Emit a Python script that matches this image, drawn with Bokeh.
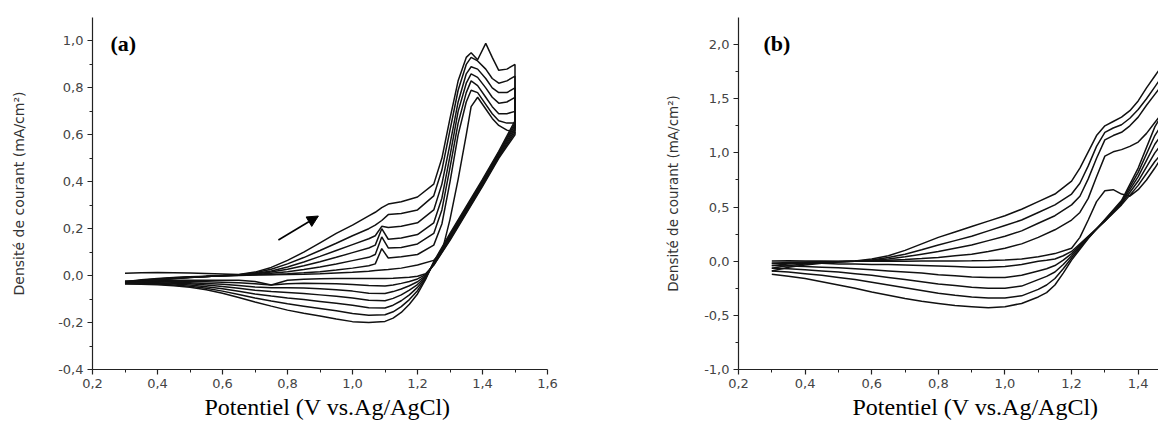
from bokeh.plotting import figure
from bokeh.layouts import row
from bokeh.models import FixedTicker, Label, Arrow, NormalHead, Range1d, Title
from bokeh.embed import file_html
from bokeh.resources import INLINE

# ---------------- Panel (a) data ----------------
A_FWD_X = [0.30, 0.35, 0.40, 0.45, 0.50, 0.55, 0.60, 0.65, 0.70, 0.75, 0.80, 0.85, 0.90, 0.95, 1.00, 1.05,
           1.07, 1.09, 1.11, 1.15, 1.20, 1.25, 1.275, 1.30, 1.325, 1.35, 1.365, 1.385, 1.41, 1.43, 1.45, 1.475, 1.50]
a_fwd_1 = [0.010, 0.012, 0.013, 0.012, 0.011, 0.009, 0.007, 0.005, 0.004, 0.004, 0.005, 0.006, 0.008, 0.011, 0.014, 0.019,
           0.022, 0.024, 0.026, 0.032, 0.045, 0.065, 0.10, 0.24, 0.41, 0.60, 0.72, 0.76, 0.71, 0.67, 0.64, 0.62, 0.61]
a_fwd_2 = [-0.026, -0.018, -0.012, -0.008, -0.005, -0.003, -0.001, 0.001, 0.003, 0.005, 0.008, 0.012, 0.017, 0.024, 0.032, 0.042,
           0.05, 0.115, 0.075, 0.08, 0.09, 0.13, 0.22, 0.40, 0.60, 0.74, 0.79, 0.78, 0.73, 0.69, 0.66, 0.65, 0.65]
a_fwd_3 = [-0.028, -0.020, -0.014, -0.009, -0.006, -0.004, -0.001, 0.002, 0.005, 0.010, 0.017, 0.026, 0.037, 0.050, 0.064, 0.078,
           0.09, 0.165, 0.118, 0.12, 0.135, 0.18, 0.28, 0.46, 0.65, 0.78, 0.83, 0.81, 0.76, 0.72, 0.69, 0.69, 0.70]
a_fwd_4 = [-0.030, -0.022, -0.016, -0.010, -0.007, -0.004, -0.001, 0.002, 0.007, 0.015, 0.027, 0.042, 0.059, 0.078, 0.098, 0.118,
           0.13, 0.20, 0.155, 0.16, 0.175, 0.225, 0.33, 0.51, 0.70, 0.82, 0.86, 0.845, 0.80, 0.76, 0.735, 0.74, 0.76]
a_fwd_5 = [-0.032, -0.024, -0.017, -0.011, -0.007, -0.004, 0.000, 0.003, 0.009, 0.020, 0.037, 0.058, 0.082, 0.107, 0.132, 0.157,
           0.17, 0.21, 0.205, 0.21, 0.225, 0.28, 0.39, 0.56, 0.74, 0.86, 0.89, 0.88, 0.84, 0.80, 0.78, 0.78, 0.80]
a_fwd_6 = [-0.034, -0.026, -0.018, -0.012, -0.008, -0.004, 0.000, 0.004, 0.012, 0.027, 0.050, 0.077, 0.107, 0.138, 0.170, 0.200,
           0.215, 0.235, 0.26, 0.265, 0.28, 0.34, 0.45, 0.62, 0.79, 0.90, 0.93, 0.915, 0.88, 0.84, 0.82, 0.83, 0.85]
a_fwd_7 = [-0.036, -0.028, -0.020, -0.013, -0.008, -0.004, 0.001, 0.005, 0.015, 0.035, 0.065, 0.100, 0.140, 0.180, 0.215, 0.255,
           0.27, 0.29, 0.305, 0.315, 0.335, 0.39, 0.50, 0.67, 0.83, 0.93, 0.95, 0.92, 0.99, 0.93, 0.875, 0.88, 0.90]

A_REV_X = [1.50, 1.45, 1.40, 1.35, 1.30, 1.25, 1.225, 1.20, 1.175, 1.15, 1.125, 1.10, 1.05, 1.00, 0.95, 0.90, 0.85, 0.80,
           0.75, 0.70, 0.65, 0.60, 0.55, 0.50, 0.45, 0.40, 0.35, 0.30]
a_rev_1 = [0.60, 0.50, 0.38, 0.265, 0.15, 0.045, 0.008, -0.003, -0.007, -0.009, -0.011, -0.012, -0.012, -0.012, -0.012, -0.013, -0.015, -0.020,
           -0.040, -0.025, -0.020, -0.020, -0.020, -0.020, -0.020, -0.021, -0.022, -0.023]
a_rev_2 = [0.61, 0.505, 0.385, 0.27, 0.155, 0.045, 0.004, -0.014, -0.025, -0.033, -0.040, -0.044, -0.042, -0.038, -0.035, -0.033, -0.032, -0.035,
           -0.040, -0.035, -0.030, -0.028, -0.026, -0.025, -0.024, -0.024, -0.025, -0.026]
a_rev_3 = [0.62, 0.51, 0.39, 0.275, 0.16, 0.05, 0.000, -0.026, -0.043, -0.057, -0.068, -0.076, -0.075, -0.066, -0.060, -0.056, -0.053, -0.052,
           -0.052, -0.048, -0.042, -0.037, -0.033, -0.030, -0.028, -0.027, -0.027, -0.028]
a_rev_4 = [0.63, 0.515, 0.395, 0.28, 0.165, 0.05, -0.004, -0.038, -0.062, -0.082, -0.097, -0.107, -0.105, -0.095, -0.088, -0.082, -0.076, -0.072,
           -0.068, -0.062, -0.054, -0.046, -0.040, -0.035, -0.032, -0.030, -0.030, -0.030]
a_rev_5 = [0.64, 0.52, 0.40, 0.285, 0.17, 0.055, -0.008, -0.050, -0.082, -0.107, -0.126, -0.138, -0.137, -0.126, -0.118, -0.110, -0.102, -0.095,
           -0.087, -0.078, -0.067, -0.056, -0.047, -0.040, -0.036, -0.033, -0.032, -0.032]
a_rev_6 = [0.65, 0.525, 0.405, 0.29, 0.175, 0.055, -0.012, -0.064, -0.102, -0.132, -0.154, -0.167, -0.169, -0.161, -0.150, -0.140, -0.130, -0.120,
           -0.108, -0.095, -0.080, -0.066, -0.054, -0.045, -0.040, -0.036, -0.035, -0.034]
a_rev_7 = [0.66, 0.53, 0.41, 0.295, 0.18, 0.06, -0.016, -0.078, -0.122, -0.157, -0.181, -0.195, -0.200, -0.196, -0.185, -0.172, -0.160, -0.147,
           -0.130, -0.112, -0.093, -0.075, -0.060, -0.050, -0.043, -0.039, -0.037, -0.036]

# ---------------- Panel (b) data ----------------
B_FWD_X = [0.30, 0.35, 0.40, 0.45, 0.50, 0.55, 0.60, 0.65, 0.70, 0.75, 0.80, 0.85, 0.90, 0.95, 1.00,
           1.05, 1.10, 1.15, 1.20, 1.225, 1.25, 1.275, 1.30, 1.325, 1.35, 1.375, 1.40, 1.425, 1.45, 1.475, 1.50]
b_fwd_1 = [0.002, 0.003, 0.002, 0.001, 0.000, -0.001, 0.000, 0.001, 0.000, 0.001, 0.001, 0.002, 0.004, 0.007, 0.012,
           0.02, 0.04, 0.07, 0.12, 0.22, 0.38, 0.55, 0.65, 0.66, 0.62, 0.60, 0.66, 0.75, 0.86, 0.98, 1.10]
b_fwd_2 = [-0.02, -0.012, -0.007, -0.004, -0.002, 0.000, 0.002, 0.008, 0.016, 0.025, 0.035, 0.05, 0.065, 0.09, 0.12,
           0.16, 0.22, 0.29, 0.38, 0.45, 0.58, 0.78, 0.97, 1.01, 1.03, 1.06, 1.10, 1.18, 1.28, 1.38, 1.48]
b_fwd_3 = [-0.04, -0.025, -0.015, -0.008, -0.004, 0.000, 0.006, 0.02, 0.04, 0.065, 0.09, 0.12, 0.15, 0.19, 0.23,
           0.28, 0.35, 0.42, 0.52, 0.60, 0.76, 0.95, 1.12, 1.16, 1.19, 1.25, 1.33, 1.44, 1.54, 1.64, 1.74]
b_fwd_4 = [-0.065, -0.04, -0.025, -0.014, -0.006, 0.000, 0.012, 0.035, 0.065, 0.105, 0.15, 0.19, 0.23, 0.28, 0.33,
           0.38, 0.45, 0.52, 0.62, 0.72, 0.88, 1.06, 1.19, 1.23, 1.26, 1.32, 1.40, 1.50, 1.61, 1.72, 1.82]
b_fwd_5 = [-0.09, -0.055, -0.035, -0.02, -0.008, 0.002, 0.02, 0.05, 0.10, 0.16, 0.22, 0.27, 0.32, 0.37, 0.42,
           0.48, 0.55, 0.62, 0.74, 0.86, 1.01, 1.16, 1.25, 1.29, 1.33, 1.39, 1.48, 1.60, 1.71, 1.82, 1.92]

B_REV_X = [1.50, 1.45, 1.40, 1.35, 1.30, 1.25, 1.20, 1.175, 1.15, 1.125, 1.10, 1.05, 1.00, 0.95, 0.90, 0.85, 0.80,
           0.75, 0.70, 0.65, 0.60, 0.55, 0.50, 0.45, 0.40, 0.35, 0.30]
b_rev_1 = [1.10, 0.92, 0.70, 0.52, 0.37, 0.23, 0.09, 0.05, 0.02, 0.008, 0.00, -0.03, -0.05, -0.055, -0.055, -0.05, -0.045,
           -0.04, -0.035, -0.03, -0.03, -0.025, -0.025, -0.02, -0.02, -0.02, -0.02]
b_rev_2 = [1.20, 1.00, 0.74, 0.53, 0.37, 0.225, 0.07, 0.01, -0.04, -0.07, -0.09, -0.13, -0.15, -0.15, -0.145, -0.135, -0.125,
           -0.11, -0.10, -0.09, -0.08, -0.07, -0.06, -0.055, -0.05, -0.045, -0.04]
b_rev_3 = [1.30, 1.08, 0.78, 0.54, 0.375, 0.22, 0.05, -0.03, -0.10, -0.14, -0.17, -0.23, -0.25, -0.25, -0.24, -0.225, -0.21,
           -0.19, -0.17, -0.15, -0.13, -0.115, -0.10, -0.09, -0.08, -0.07, -0.065]
b_rev_4 = [1.40, 1.16, 0.82, 0.55, 0.38, 0.215, 0.03, -0.07, -0.16, -0.22, -0.26, -0.32, -0.34, -0.34, -0.33, -0.315, -0.295,
           -0.27, -0.245, -0.22, -0.195, -0.17, -0.15, -0.13, -0.115, -0.10, -0.09]
b_rev_5 = [1.50, 1.24, 0.86, 0.56, 0.385, 0.21, 0.01, -0.11, -0.22, -0.29, -0.33, -0.39, -0.42, -0.43, -0.42, -0.41, -0.39,
           -0.37, -0.345, -0.315, -0.285, -0.25, -0.22, -0.19, -0.16, -0.14, -0.12]

# ---------------- Axes / annotation definitions ----------------
A_XTICKS = [0.2, 0.4, 0.6, 0.8, 1.0, 1.2, 1.4, 1.6]
A_XLABELS = ["0,2", "0,4", "0,6", "0,8", "1,0", "1,2", "1,4", "1,6"]
A_XMINOR = [0.3, 0.5, 0.7, 0.9, 1.1, 1.3, 1.5]
A_YTICKS = [-0.4, -0.2, 0.0, 0.2, 0.4, 0.6, 0.8, 1.0]
A_YLABELS = ["-0,4", "-0,2", "0,0", "0,2", "0,4", "0,6", "0,8", "1,0"]
A_YMINOR = [-0.3, -0.1, 0.1, 0.3, 0.5, 0.7, 0.9]

B_XTICKS = [0.2, 0.4, 0.6, 0.8, 1.0, 1.2, 1.4, 1.6]
B_XLABELS = ["0,2", "0,4", "0,6", "0,8", "1,0", "1,2", "1,4", "1,6"]
B_XMINOR = [0.3, 0.5, 0.7, 0.9, 1.1, 1.3, 1.5]
B_YTICKS = [-1.0, -0.5, 0.0, 0.5, 1.0, 1.5, 2.0]
B_YLABELS = ["-1,0", "-0,5", "0,0", "0,5", "1,0", "1,5", "2,0"]
B_YMINOR = [-0.75, -0.25, 0.25, 0.75, 1.25, 1.75]

X_TITLE = "Potentiel (V vs.Ag/AgCl)"
Y_TITLE = "Densité de courant (mA/cm²)"
A_TAG = "(a)"
B_TAG = "(b)"
A_TAG_POS = [0.255, 0.99]
B_TAG_POS = [0.275, 2.01]
A_ARROW = [0.772, 0.152, 0.895, 0.254]

LINE_COLOR = "#111111"
AXIS_COLOR = "#222222"


def style_axes(p, xt, xl, xm, yt, yl, ym, ylabel_standoff, ylabel_size):
    xa = p.xaxis[0]
    ya = p.yaxis[0]
    xa.ticker = FixedTicker(ticks=xt, minor_ticks=xm)
    ya.ticker = FixedTicker(ticks=yt, minor_ticks=ym)
    xa.major_label_overrides = dict(zip(xt, xl))
    ya.major_label_overrides = dict(zip(yt, yl))
    for ax in (xa, ya):
        ax.axis_line_color = AXIS_COLOR
        ax.axis_line_width = 1.2
        ax.major_tick_line_color = AXIS_COLOR
        ax.minor_tick_line_color = AXIS_COLOR
        ax.major_tick_line_width = 1.2
        ax.minor_tick_line_width = 1.0
        ax.major_tick_in = 0
        ax.major_tick_out = 5
        ax.minor_tick_in = 0
        ax.minor_tick_out = 3
        ax.major_label_text_font = "DejaVu Sans"
        ax.major_label_text_font_size = "13px"
        ax.major_label_text_color = "#444444"
        ax.major_label_standoff = 4
    ya.axis_label = Y_TITLE
    ya.axis_label_text_font = "DejaVu Sans"
    ya.axis_label_text_font_size = ylabel_size
    ya.axis_label_text_font_style = "normal"
    ya.axis_label_text_color = "#333333"
    ya.axis_label_standoff = ylabel_standoff


def base_fig(width, x_end, y_start, y_end, left, right, bottom):
    p = figure(width=width, height=445, output_backend="svg", toolbar_location=None,
               x_range=Range1d(0.2, x_end), y_range=Range1d(y_start, y_end),
               min_border_left=left, min_border_right=right, min_border_top=17,
               min_border_bottom=bottom, background_fill_color="white",
               border_fill_color="white")
    p.grid.visible = False
    p.outline_line_color = None
    return p


def x_title(p, shift):
    p.add_layout(Title(text=X_TITLE, align="left", offset=shift, standoff=2,
                       text_font="Liberation Serif", text_font_size="24px",
                       text_font_style="normal", text_color="black"), "below")


# ---------------- Figure (a) ----------------
pa = base_fig(600, 1.6, -0.4, 1.1, 92, 53, 75)
style_axes(pa, A_XTICKS, A_XLABELS, A_XMINOR, A_YTICKS, A_YLABELS, A_YMINOR, 28, "14px")
for f, r in [(a_fwd_1, a_rev_1), (a_fwd_2, a_rev_2), (a_fwd_3, a_rev_3), (a_fwd_4, a_rev_4),
             (a_fwd_5, a_rev_5), (a_fwd_6, a_rev_6), (a_fwd_7, a_rev_7)]:
    pa.line(A_FWD_X + A_REV_X, f + r, line_color=LINE_COLOR, line_width=1.5)

pa.add_layout(Arrow(end=NormalHead(size=11, fill_color="black", line_color="black"),
                    x_start=A_ARROW[0], y_start=A_ARROW[1], x_end=A_ARROW[2], y_end=A_ARROW[3],
                    line_color="black", line_width=1.6))
pa.add_layout(Label(x=A_TAG_POS[0], y=A_TAG_POS[1], text=A_TAG, text_font="Liberation Serif",
                    text_font_style="bold", text_font_size="22px", text_baseline="middle",
                    text_align="left", text_color="black"))
x_title(pa, 112)

# ---------------- Figure (b) ----------------
pb = base_fig(558, 1.461, -1.0, 2.25, 138, 0, 76)
style_axes(pb, B_XTICKS, B_XLABELS, B_XMINOR, B_YTICKS, B_YLABELS, B_YMINOR, 20, "13.5px")
for f, r in [(b_fwd_1, b_rev_1), (b_fwd_2, b_rev_2), (b_fwd_3, b_rev_3), (b_fwd_4, b_rev_4),
             (b_fwd_5, b_rev_5)]:
    pb.line(B_FWD_X + B_REV_X, f + r, line_color=LINE_COLOR, line_width=1.5)

pb.add_layout(Label(x=B_TAG_POS[0], y=B_TAG_POS[1], text=B_TAG, text_font="Liberation Serif",
                    text_font_style="bold", text_font_size="22px", text_baseline="middle",
                    text_align="left", text_color="black"))
x_title(pb, 114)

layout = row(pa, pb)
open("out.html", "w").write(file_html(layout, INLINE))
